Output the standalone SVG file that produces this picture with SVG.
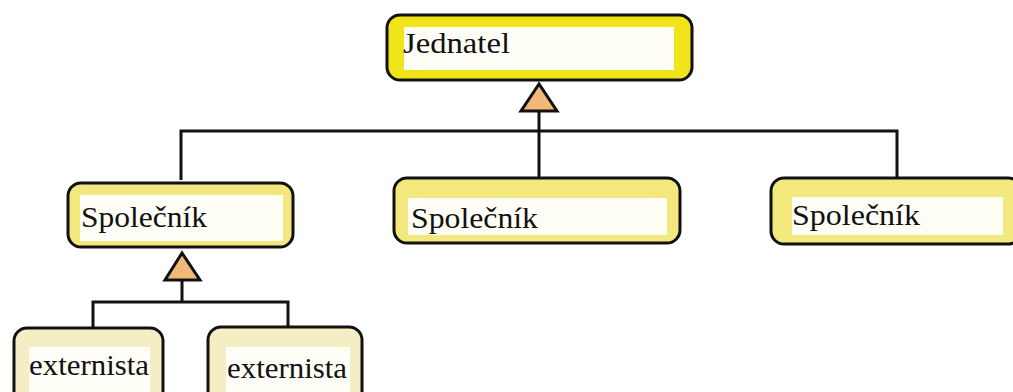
<svg xmlns="http://www.w3.org/2000/svg" width="1013" height="392" viewBox="0 0 1013 392">
<style>
.box{stroke:#111;stroke-width:3}
.inner{fill:#fffef6}
.lbl{font-family:"Liberation Serif",serif;font-size:30px;fill:#111}
.conn{stroke:#111;stroke-width:3;fill:none}
.tri{fill:#f2b877;stroke:#111;stroke-width:3;stroke-linejoin:miter}
</style>
<rect width="1013" height="392" fill="#ffffff"/>
<g id="connectors">
  <line class="conn" x1="539" y1="110" x2="539" y2="131"/>
  <polyline class="conn" points="181,180 181,131 897,131 897,177"/>
  <line class="conn" x1="539" y1="131" x2="539" y2="177"/>
  <polygon class="tri" points="539,84 521,111 557,111"/>
  <line class="conn" x1="182" y1="280" x2="182" y2="302"/>
  <polyline class="conn" points="93,327 93,302 288,302 288,326"/>
  <polygon class="tri" points="182,253 165,280 200,280"/>
</g>
<g id="jednatel">
  <rect class="box" x="387" y="15" width="305" height="65" rx="13" fill="#f2e41a"/>
  <rect class="inner" x="404" y="27" width="270" height="43" fill="#ffffff"/>
  <text class="lbl" x="403" y="53" textLength="107" lengthAdjust="spacingAndGlyphs">Jednatel</text>
</g>
<g id="spolecnik1">
  <rect class="box" x="68" y="183" width="225" height="64" rx="13" fill="#f2e87e"/>
  <rect class="inner" x="80" y="195" width="203" height="46"/>
  <text class="lbl" x="81" y="227" textLength="126" lengthAdjust="spacingAndGlyphs">Společník</text>
</g>
<g id="spolecnik2">
  <rect class="box" x="394" y="178" width="286" height="65" rx="13" fill="#f2e87e"/>
  <rect class="inner" x="408" y="198" width="259" height="37"/>
  <text class="lbl" x="411" y="228" textLength="127" lengthAdjust="spacingAndGlyphs">Společník</text>
</g>
<g id="spolecnik3">
  <rect class="box" x="771" y="178" width="250" height="66" rx="13" fill="#f2e87e"/>
  <rect class="inner" x="792" y="197" width="211" height="38"/>
  <text class="lbl" x="792" y="225" textLength="128" lengthAdjust="spacingAndGlyphs">Společník</text>
</g>
<g id="externista1">
  <rect class="box" x="14" y="328" width="149" height="80" rx="13" fill="#f5edc4"/>
  <rect class="inner" x="29" y="347" width="121" height="50"/>
  <text class="lbl" x="29" y="375" textLength="120" lengthAdjust="spacingAndGlyphs">externista</text>
</g>
<g id="externista2">
  <rect class="box" x="208" y="327" width="154" height="80" rx="13" fill="#f5edc4"/>
  <rect class="inner" x="226" y="347" width="124" height="50"/>
  <text class="lbl" x="227" y="378" textLength="120" lengthAdjust="spacingAndGlyphs">externista</text>
</g>
</svg>
